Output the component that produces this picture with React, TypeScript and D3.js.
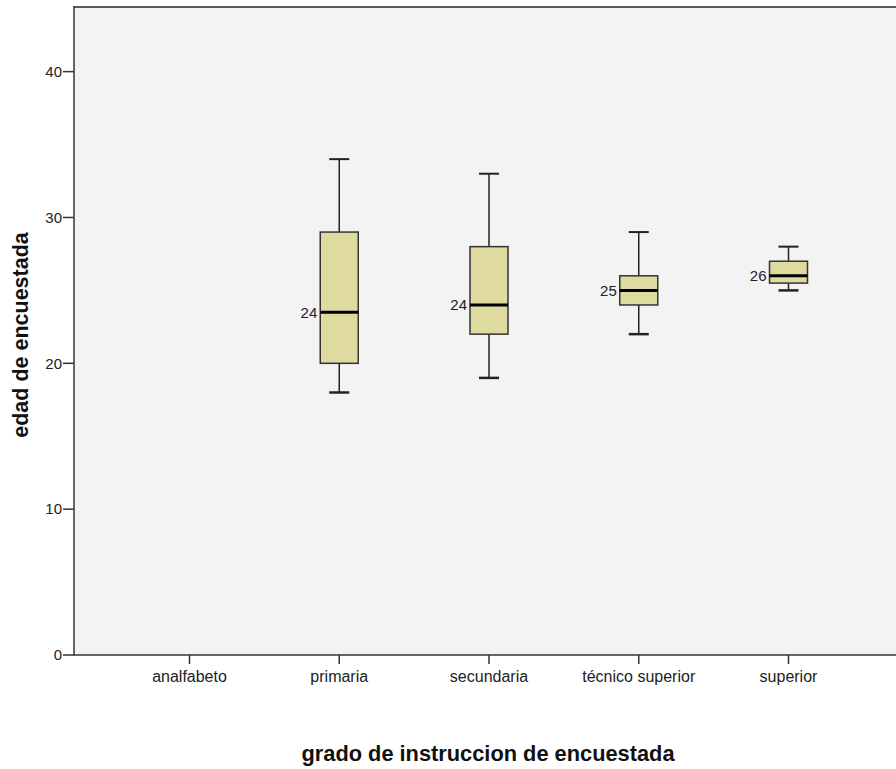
import React from "react";
import * as d3 from "d3";

const categories = ["analfabeto", "primaria", "secundaria", "técnico superior", "superior"];
const whiskerLow: (number | null)[] = [null, 18, 19, 22, 25];
const q1: (number | null)[] = [null, 20, 22, 24, 25.5];
const median: (number | null)[] = [null, 23.5, 24, 25, 26];
const q3: (number | null)[] = [null, 29, 28, 26, 27];
const whiskerHigh: (number | null)[] = [null, 34, 33, 29, 28];
const medianLabels: (string | null)[] = [null, "24", "24", "25", "26"];
const yTicks = [0, 10, 20, 30, 40];

const W = 896;
const H = 769;
const left = 74;
const top = 6;
const bottom = 655;
const right = 900;

export default function App() {
  const y = d3.scaleLinear().domain([0, 44.5]).range([bottom, top]);
  const x = d3.scalePoint<string>().domain(categories).range([189.5, 788.5]);
  const boxW = 38;
  const capW = 20;
  const font = "'Liberation Sans', Arial, sans-serif";
  return (
    <svg width={W} height={H} style={{ position: "absolute", left: 0, top: 0 }}>
      <rect x={0} y={0} width={W} height={H} fill="#ffffff" />
      <rect x={left} y={top} width={right - left} height={bottom - top} fill="#f3f3f3" />
      <line x1={left} x2={right} y1={top + 1} y2={top + 1} stroke="#5a5a5a" strokeWidth={2} />
      <line x1={left} x2={left} y1={top} y2={bottom} stroke="#333" strokeWidth={1.5} />
      <line x1={left - 1} x2={right} y1={bottom} y2={bottom} stroke="#333" strokeWidth={1.5} />
      {yTicks.map((t) => (
        <g key={t}>
          <line x1={left - 11} x2={left} y1={y(t)} y2={y(t)} stroke="#333" strokeWidth={1.5} />
          <text x={left - 12} y={y(t)} dy="0.35em" textAnchor="end" fontFamily={font} fontSize={15} fill="#222">
            {t}
          </text>
        </g>
      ))}
      {categories.map((c) => (
        <g key={c}>
          <line x1={x(c)!} x2={x(c)!} y1={bottom} y2={bottom + 9} stroke="#333" strokeWidth={1.5} />
          <text x={x(c)!} y={682} textAnchor="middle" fontFamily={font} fontSize={16} fill="#222">
            {c}
          </text>
        </g>
      ))}
      {categories.map((c, i) => {
        if (median[i] == null) return null;
        const cx = x(c)!;
        return (
          <g key={"b" + c}>
            <line x1={cx} x2={cx} y1={y(q3[i]!)} y2={y(whiskerHigh[i]!)} stroke="#222" strokeWidth={1.5} />
            <line x1={cx} x2={cx} y1={y(q1[i]!)} y2={y(whiskerLow[i]!)} stroke="#222" strokeWidth={1.5} />
            <line x1={cx - capW / 2} x2={cx + capW / 2} y1={y(whiskerHigh[i]!)} y2={y(whiskerHigh[i]!)} stroke="#222" strokeWidth={2} />
            <line x1={cx - capW / 2} x2={cx + capW / 2} y1={y(whiskerLow[i]!)} y2={y(whiskerLow[i]!)} stroke="#222" strokeWidth={2.5} />
            <rect
              x={cx - boxW / 2}
              y={y(q3[i]!)}
              width={boxW}
              height={y(q1[i]!) - y(q3[i]!)}
              fill="#dedaa0"
              stroke="#333"
              strokeWidth={1.5}
            />
            <line x1={cx - boxW / 2} x2={cx + boxW / 2} y1={y(median[i]!)} y2={y(median[i]!)} stroke="#000" strokeWidth={3} />
            <text x={cx - boxW / 2 - 3} y={y(median[i]!)} dy="0.35em" textAnchor="end" fontFamily={font} fontSize={15} fill="#222">
              {medianLabels[i]}
            </text>
          </g>
        );
      })}
      <text x={488} y={761} textAnchor="middle" fontFamily={font} fontSize={21.8} fontWeight="bold" fill="#111">
        grado de instruccion de encuestada
      </text>
      <text
        transform="translate(28, 335) rotate(-90)"
        textAnchor="middle"
        fontFamily={font}
        fontSize={21.5}
        fontWeight="bold"
        fill="#111"
      >
        edad de encuestada
      </text>
    </svg>
  );
}
